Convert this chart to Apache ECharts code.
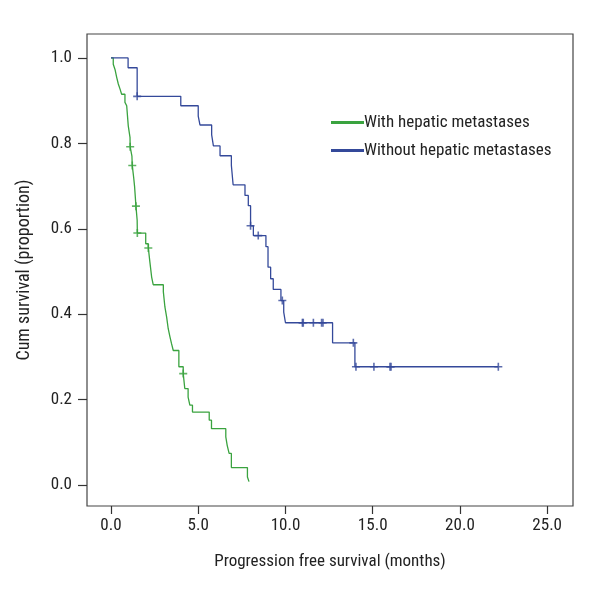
<!DOCTYPE html>
<html><head><meta charset="utf-8">
<script src="https://cdn.jsdelivr.net/npm/echarts@6/dist/echarts.min.js"></script>
<style>html,body{margin:0;padding:0;background:#fff}#c{width:600px;height:600px}</style>
</head><body><div id="c"></div>
<script>
const seriesNames = ['With hepatic metastases', 'Without hepatic metastases'];
const xTicks = [0, 5, 10, 15, 20, 25];
const yTicks = [0, 0.2, 0.4, 0.6, 0.8, 1.0];

// With hepatic metastases: step points (time, survival)
const withT = [0, 0.13, 0.23, 0.33, 0.42, 0.52, 0.61, 0.8, 0.9, 0.99, 1.09, 1.1, 1.2, 1.22, 1.3, 1.35, 1.43, 1.5, 1.51, 1.99, 2.14, 2.23, 2.33, 2.42, 3.0, 3.09, 3.19, 3.28, 3.38, 3.47, 3.57, 3.89, 4.14, 4.23, 4.42, 4.52, 4.67, 5.63, 5.76, 6.58, 6.66, 6.77, 6.9, 7.82, 7.91];
const withS = [1.0, 0.985, 0.973, 0.954, 0.939, 0.927, 0.915, 0.896, 0.888, 0.841, 0.814, 0.792, 0.77, 0.748, 0.72, 0.70, 0.653, 0.62, 0.59, 0.565, 0.555, 0.522, 0.487, 0.469, 0.453, 0.417, 0.393, 0.366, 0.347, 0.331, 0.315, 0.277, 0.261, 0.226, 0.206, 0.187, 0.171, 0.152, 0.132, 0.113, 0.093, 0.074, 0.041, 0.019, 0.008];
const withCensT = [1.1, 1.22, 1.43, 1.51, 2.14, 4.14];
const withCensS = [0.792, 0.748, 0.653, 0.59, 0.555, 0.261];

// Without hepatic metastases
const withoutT = [0, 0.98, 1.5, 4.0, 5.0, 5.1, 5.77, 5.87, 6.25, 6.9, 7.0, 7.68, 7.87, 8.0, 8.16, 8.88, 9.0, 9.15, 9.3, 9.74, 9.9, 10.0, 12.7, 13.98, 22.2];
const withoutS = [1.0, 0.977, 0.91, 0.888, 0.864, 0.843, 0.82, 0.794, 0.771, 0.748, 0.703, 0.678, 0.654, 0.607, 0.584, 0.558, 0.51, 0.483, 0.458, 0.432, 0.405, 0.38, 0.333, 0.277, 0.277];
const withoutCensT = [1.5, 8.0, 8.44, 9.82, 10.97, 11.02, 11.6, 12.07, 12.15, 13.89, 14.04, 15.07, 15.99, 16.05, 22.2];
const withoutCensS = [0.91, 0.607, 0.584, 0.432, 0.38, 0.38, 0.38, 0.38, 0.38, 0.333, 0.277, 0.277, 0.277, 0.277, 0.277];

const GREEN = '#3aa33f', BLUE = '#34499a';
const FONT = "'Liberation Sans Narrow','Roboto Condensed','Open Sans',sans-serif";
const PLUS = 'path://M4,0H6V4H10V6H6V10H4V6H0V4H4Z';
const zip = (a, b) => a.map((v, i) => [v, b[i]]);

const chart = echarts.init(document.getElementById('c'), null, {renderer: 'canvas'});
chart.setOption({
  animation: false,
  backgroundColor: '#fff',
  textStyle: {fontFamily: FONT},
  grid: {left: 87, right: 27, top: 34, bottom: 94, show: true, borderColor: '#444', borderWidth: 1.2, backgroundColor: 'transparent'},
  legend: {
    orient: 'vertical', left: 326, top: 109, itemGap: 11, itemWidth: 33, itemHeight: 3,
    data: seriesNames.map((n, i) => ({name: n, icon: 'rect', itemStyle: {color: i ? BLUE : GREEN}})),
    textStyle: {fontSize: 17, color: '#222', fontFamily: FONT, padding: [0, 0, 0, -5]}
  },
  xAxis: {
    type: 'value', min: -1.375, max: 26.48,
    name: 'Progression free survival (months)', nameLocation: 'middle', nameGap: 47,
    nameTextStyle: {fontSize: 17, color: '#222', fontFamily: FONT},
    axisLine: {show: false, onZero: false}, splitLine: {show: false},
    axisTick: {show: true, length: 8, customValues: xTicks, lineStyle: {color: '#333', width: 1.2}},
    axisLabel: {customValues: xTicks, fontSize: 17, color: '#222', margin: 11, fontFamily: FONT, formatter: v => v.toFixed(1)}
  },
  yAxis: {
    type: 'value', min: -0.049, max: 1.056,
    name: 'Cum survival (proportion)', nameLocation: 'middle', nameGap: 54,
    nameTextStyle: {fontSize: 18, color: '#222', fontFamily: FONT},
    axisLine: {show: false, onZero: false}, splitLine: {show: false},
    axisTick: {show: true, length: 9, customValues: yTicks, lineStyle: {color: '#333', width: 1.2}},
    axisLabel: {customValues: yTicks, fontSize: 17, color: '#222', margin: 15, fontFamily: FONT, formatter: v => v.toFixed(1)}
  },
  series: [
    {name: seriesNames[0], type: 'line', step: 'end', showSymbol: false, symbol: 'none',
     lineStyle: {color: GREEN, width: 1.3}, itemStyle: {color: GREEN}, data: zip(withT, withS), z: 3},
    {name: seriesNames[1], type: 'line', step: 'end', showSymbol: false, symbol: 'none',
     lineStyle: {color: BLUE, width: 1.3}, itemStyle: {color: BLUE}, data: zip(withoutT, withoutS), z: 3},
    {name: seriesNames[0] + ' censored', type: 'scatter', symbol: PLUS, symbolSize: 8,
     itemStyle: {color: GREEN}, data: zip(withCensT, withCensS), z: 4},
    {name: seriesNames[1] + ' censored', type: 'scatter', symbol: PLUS, symbolSize: 8,
     itemStyle: {color: BLUE}, data: zip(withoutCensT, withoutCensS), z: 4}
  ]
});
</script></body></html>
